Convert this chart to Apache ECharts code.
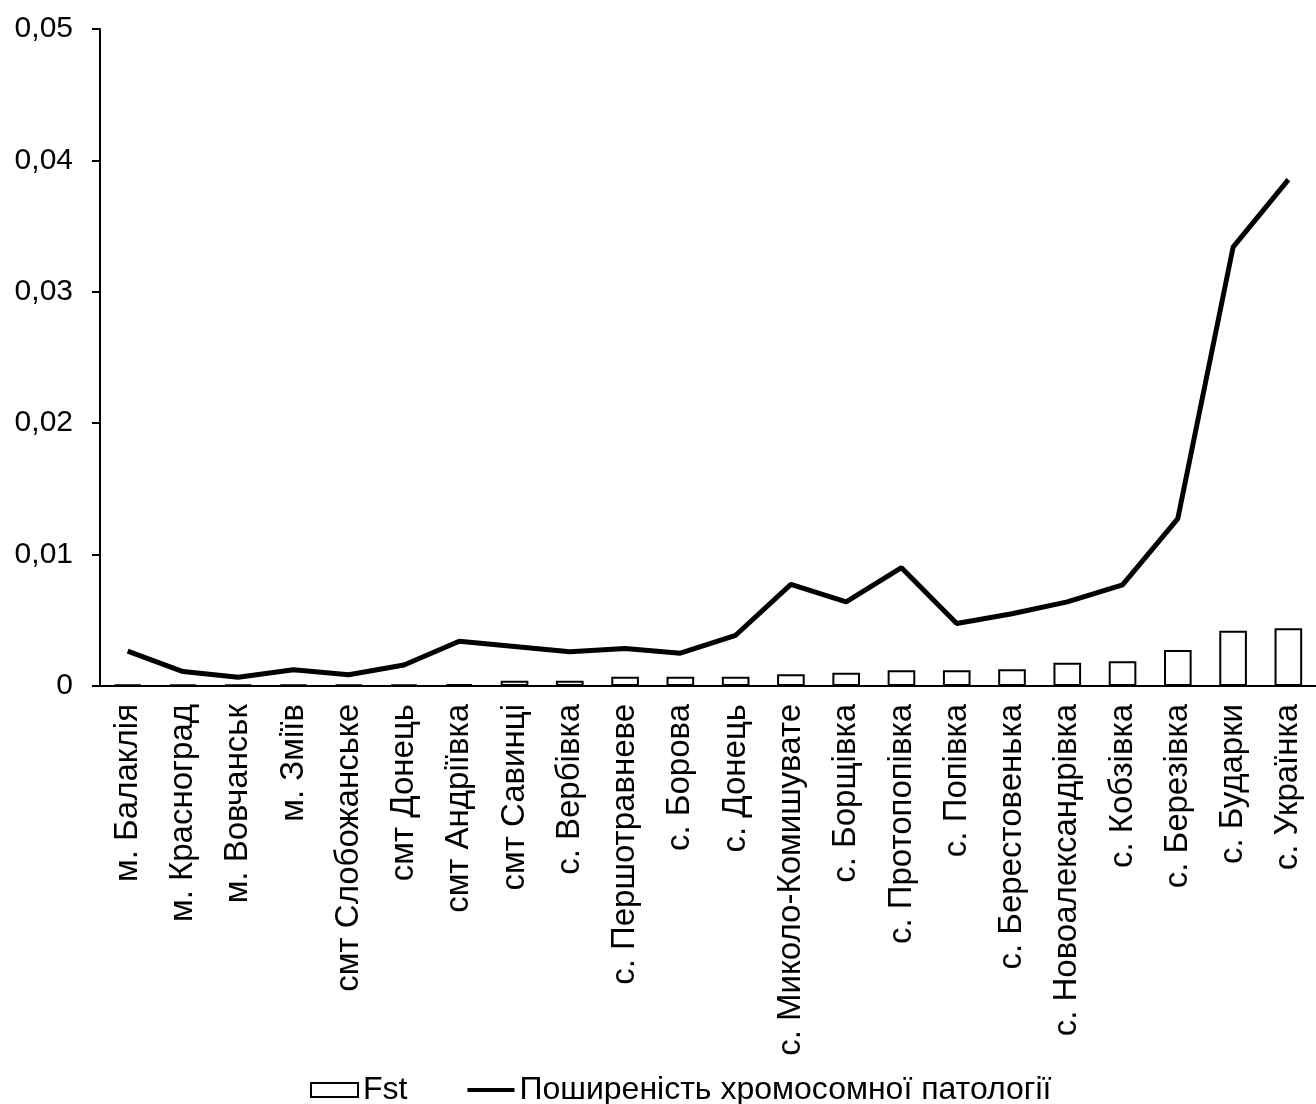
<!DOCTYPE html>
<html>
<head>
<meta charset="utf-8">
<script src="https://cdn.jsdelivr.net/npm/echarts@6/dist/echarts.min.js"></script>
<style>
html,body{margin:0;padding:0;background:#fff;}
#chart{width:1316px;height:1104px;}
</style>
</head>
<body>
<div id="chart"></div>
<script>
const categories = ['м. Балаклія','м. Красноград','м. Вовчанськ','м. Зміїв','смт Слобожанське','смт Донець','смт Андріївка','смт Савинці','с. Вербівка','с. Першотравневе','с. Борова','с. Донець','с. Миколо-Комишувате','с. Борщівка','с. Протопопівка','с. Попівка','с. Берестовенька','с. Новоалександрівка','с. Кобзівка','с. Березівка','с. Бударки','с. Українка'];
const fstValues = [0.0001,0.0001,0.0001,0.0001,0.0001,0.00012,0.00015,0.0004,0.0004,0.0007,0.0007,0.0007,0.0009,0.001,0.0012,0.0012,0.00127,0.00177,0.00188,0.00274,0.0042,0.0044];
const prevalenceValues = [0.00265,0.0011,0.00067,0.00123,0.00085,0.0016,0.0034,0.003,0.0026,0.00285,0.0025,0.00386,0.00774,0.0064,0.009,0.00475,0.0055,0.0064,0.0077,0.01274,0.0334,0.03854];
const yTicks = {min:0, max:0.05, interval:0.01};
const seriesNames = ['Fst','Поширеність хромосомної патології'];

const chart = echarts.init(document.getElementById('chart'));
const font = 'Liberation Sans, Arial, sans-serif';
chart.setOption({
  animation:false,
  backgroundColor:'#fff',
  textStyle:{fontFamily:font},
  grid:{left:100,right:0,top:29,bottom:418,containLabel:false},
  legend:{
    left:305, top:1069, itemGap:60, itemWidth:47, itemHeight:14,
    textStyle:{fontFamily:font,fontSize:32,color:'#000'},
    data:[
      {name:seriesNames[0],icon:'rect'},
      {name:seriesNames[1],icon:'path://M0,0H56V5H0Z'}
    ]
  },
  xAxis:{
    type:'category', data:categories,
    axisLine:{lineStyle:{color:'#000',width:2}},
    axisTick:{show:false},
    axisLabel:{rotate:90,margin:18,fontSize:33,color:'#000',fontFamily:font,interval:0}
  },
  yAxis:{
    type:'value', min:yTicks.min, max:yTicks.max, interval:yTicks.interval,
    splitLine:{show:false},
    axisLine:{show:true,lineStyle:{color:'#000',width:2}},
    axisTick:{show:true,length:8,lineStyle:{color:'#000',width:2}},
    axisLabel:{margin:27,fontSize:30,color:'#000',fontFamily:font,
      formatter:v=> v===0 ? '0' : v.toFixed(2).replace('.',',')}
  },
  series:[
    {name:seriesNames[0],type:'bar',data:fstValues,barWidth:'50%',
     itemStyle:{color:'#fff',borderColor:'#000',borderWidth:2}},
    {name:seriesNames[1],type:'line',data:prevalenceValues,symbol:'none',
     lineStyle:{color:'#000',width:5},itemStyle:{color:'#000'}}
  ]
});
</script>
</body>
</html>
